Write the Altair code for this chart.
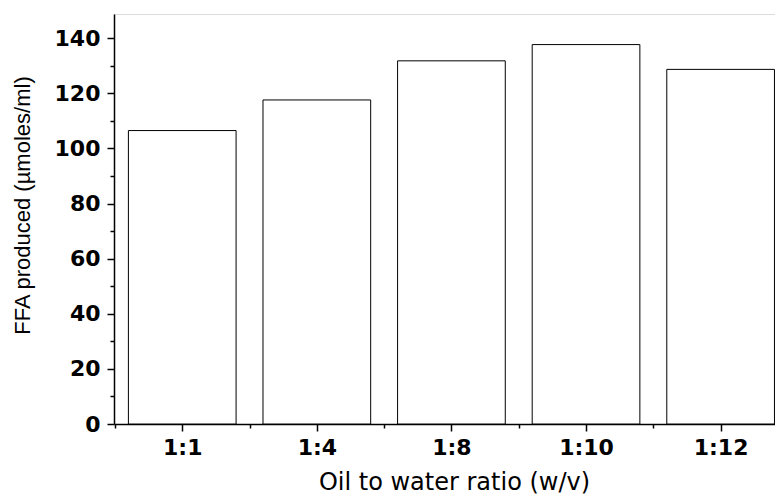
import altair as alt
import pandas as pd

ratios = ["1:1", "1:4", "1:8", "1:10", "1:12"]
ffa = [106.5, 117.6, 131.8, 137.7, 128.7]
base = [0, 0, 0, 0, 0]

df = pd.DataFrame({"idx": list(range(len(ratios))), "ratio": ratios, "ffa": ffa, "base": base})

label_expr = "[" + ",".join("'" + r + "'" for r in ratios) + "][datum.value]"

xscale = alt.Scale(domain=[-0.507, 4.404], nice=False, zero=False)
yscale = alt.Scale(domain=[0, 148.8], nice=False)

FONT = "DejaVu Sans"

bars = alt.Chart(df).transform_calculate(
    x0="datum.idx - 0.4", x1="datum.idx + 0.4"
).mark_bar(fill="white", stroke="black", strokeWidth=1).encode(
    x=alt.X("x0:Q", scale=xscale,
            axis=alt.Axis(orient="bottom", values=list(range(len(ratios))), labelExpr=label_expr,
                          title="Oil to water ratio (w/v)", grid=False,
                          domainColor="black", domainWidth=1.5, tickColor="black", tickWidth=1.5,
                          tickSize=7, labelFont=FONT, labelFontWeight="bold", labelFontSize=22,
                          labelColor="black", labelPadding=6,
                          titleFont=FONT, titleFontWeight="normal", titleFontSize=24,
                          titleColor="black", titleX=340, titleY=65, titleBaseline="alphabetic",
                          titleAnchor="middle")),
    x2="x1:Q",
    y=alt.Y("ffa:Q", scale=yscale,
            axis=alt.Axis(orient="left", values=[0, 20, 40, 60, 80, 100, 120, 140],
                          title="FFA produced (µmoles/ml)", grid=False,
                          domainColor="black", domainWidth=1.5, tickColor="black", tickWidth=1.5,
                          tickSize=7, labelFont=FONT, labelFontWeight="bold", labelFontSize=22,
                          labelColor="black", labelPadding=7,
                          titleFont="Liberation Sans", titleFontWeight="normal", titleFontSize=22,
                          titleColor="black", titleX=-85, titleY=191, titleAngle=-90,
                          titleBaseline="alphabetic", titleAnchor="middle")),
    y2="base:Q",
)

minor = alt.Chart(df).mark_point(opacity=0).encode(
    x=alt.X("idx:Q", scale=xscale,
            axis=alt.Axis(orient="bottom", values=[-0.5, 0.5, 1.5, 2.5, 3.5], labels=False,
                          title=None, grid=False, domain=False, tickColor="black",
                          tickWidth=1.5, tickSize=4)),
    y=alt.Y("ffa:Q", scale=yscale,
            axis=alt.Axis(orient="left", values=[10, 30, 50, 70, 90, 110, 130], labels=False,
                          title=None, grid=False, domain=False, tickColor="black",
                          tickWidth=1.5, tickSize=4)),
)

chart = alt.layer(bars, minor).resolve_axis(x="independent", y="independent").properties(
    width=661, height=410,
    autosize=alt.AutoSizeParams(type="none"),
    padding={"left": 106, "top": 6, "right": 0, "bottom": 71},
).configure_view(stroke=None).configure(background="white")

chart.save("out.html", embed_options={"renderer": "svg", "actions": False})
